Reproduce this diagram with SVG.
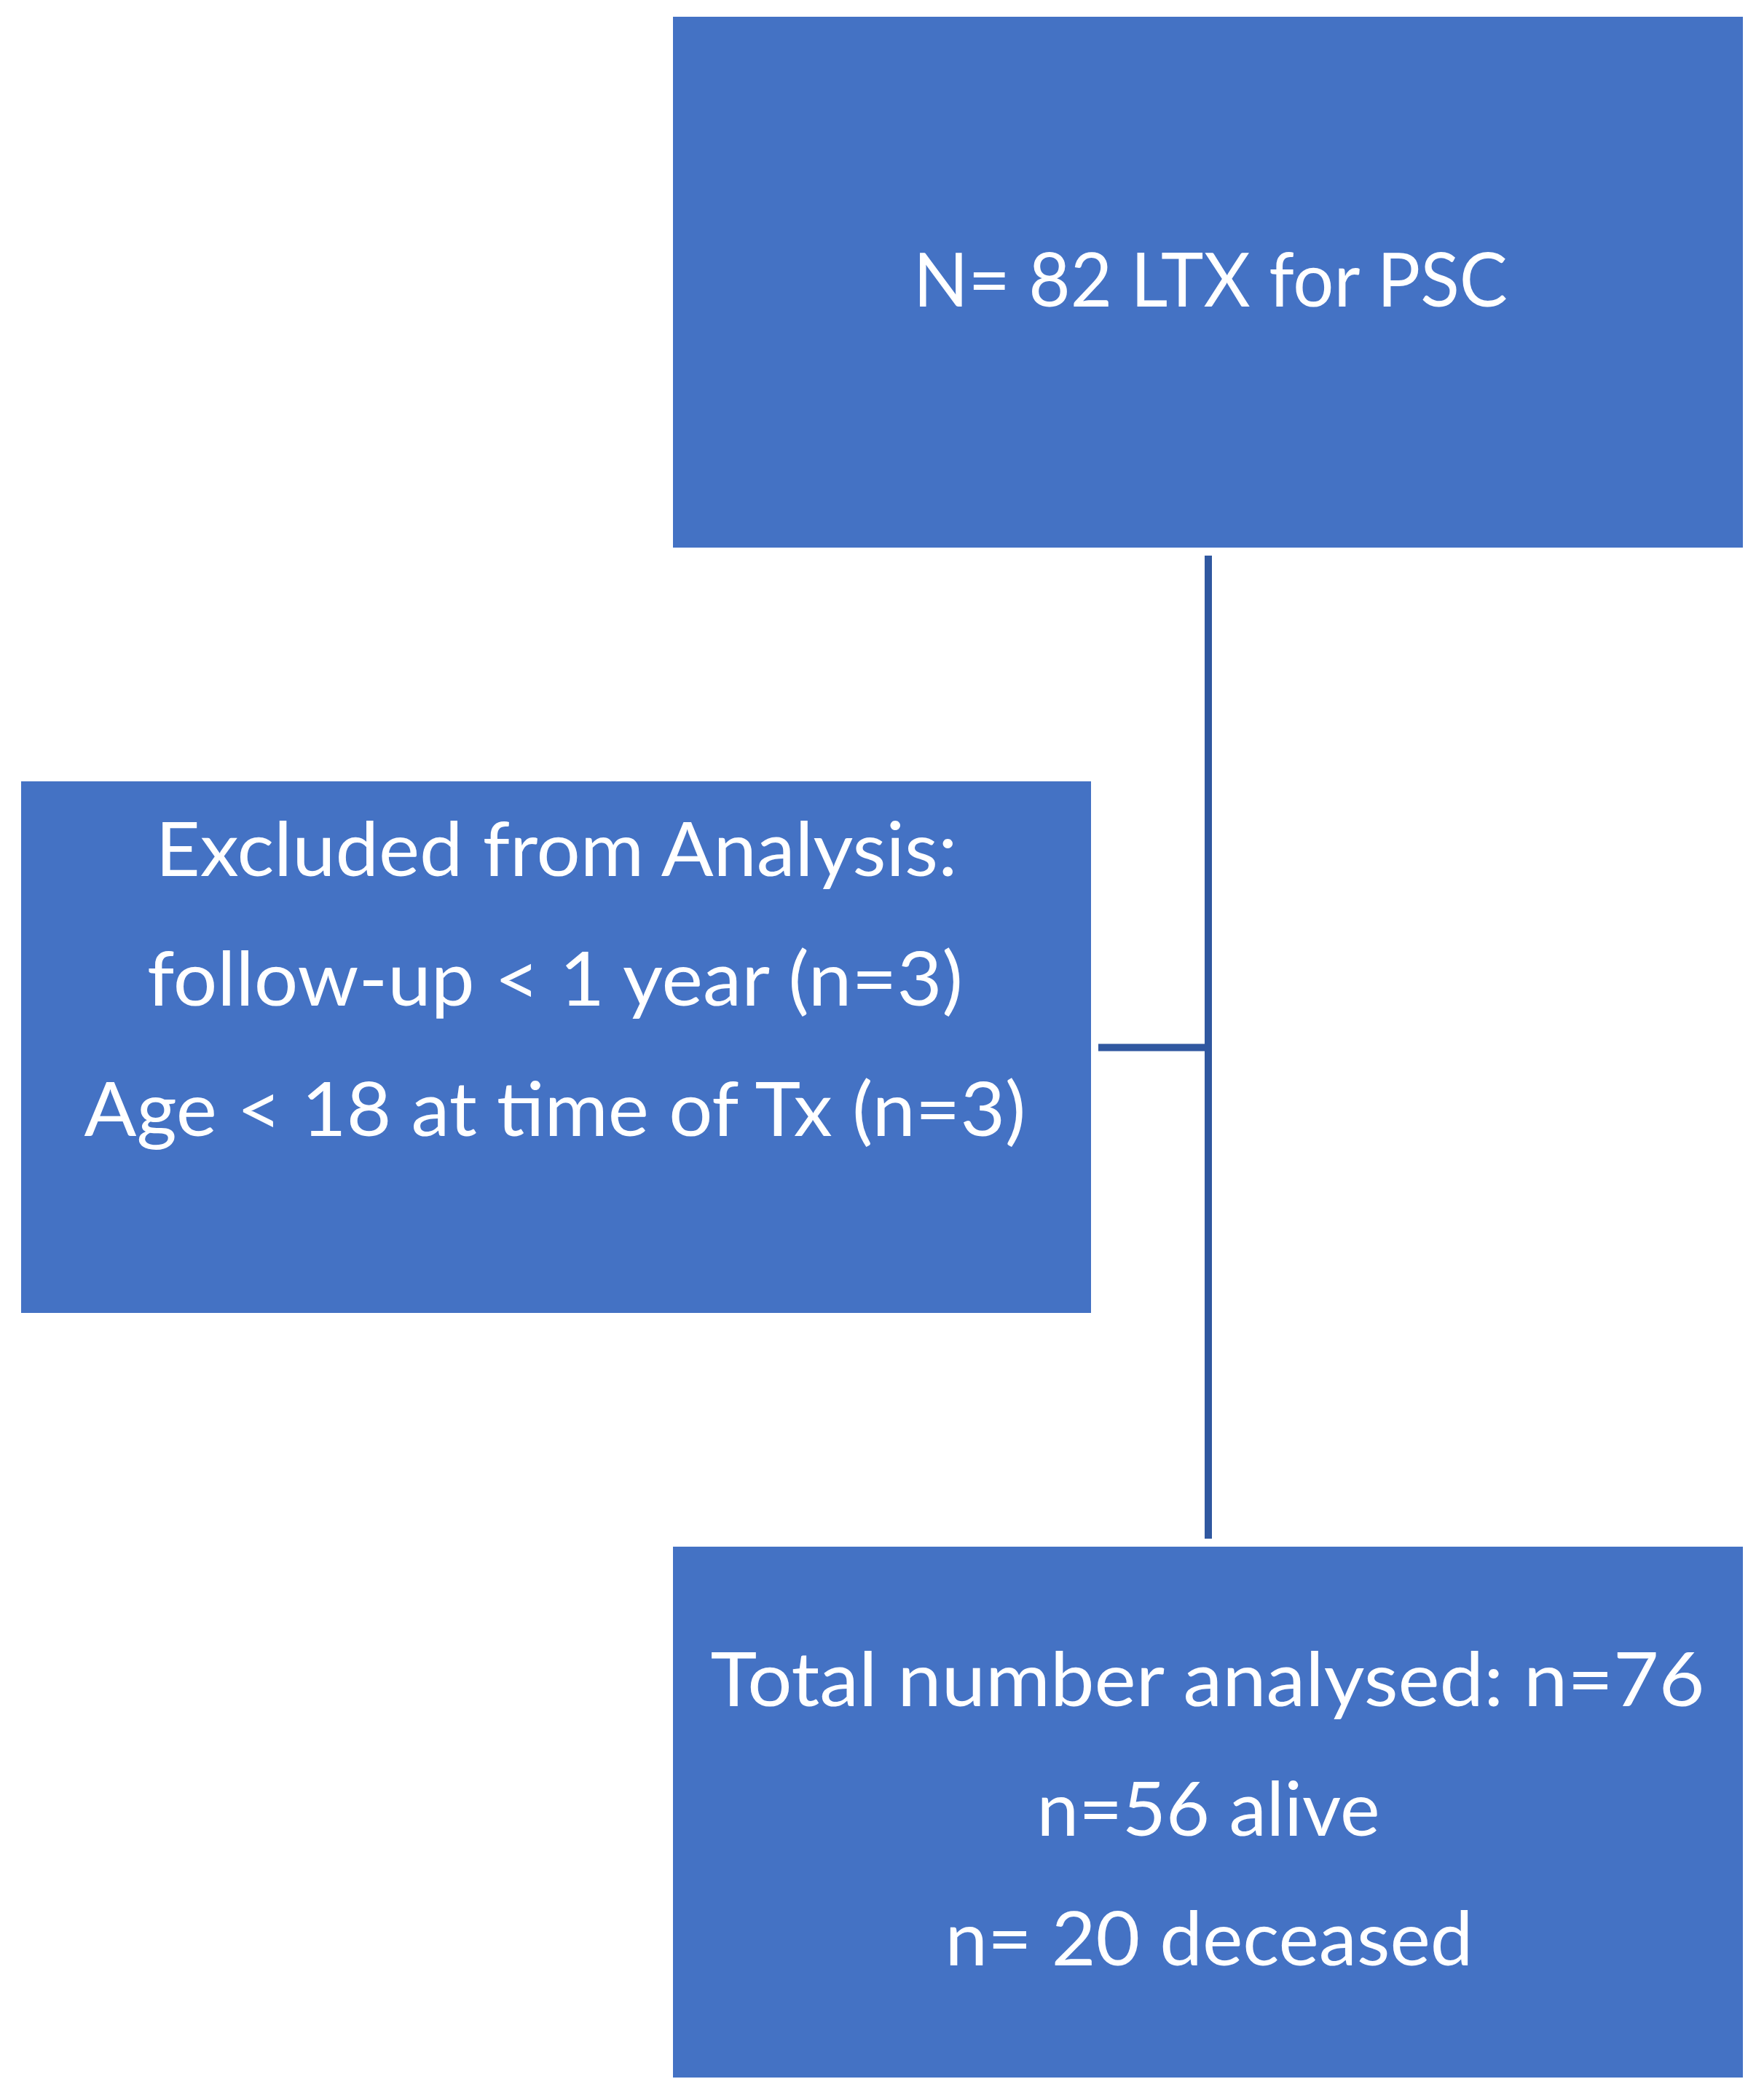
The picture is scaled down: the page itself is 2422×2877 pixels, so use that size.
<svg xmlns="http://www.w3.org/2000/svg" width="2422" height="2877" viewBox="0 0 2422 2877">
  <style>
    .box { fill: #4472C4; }
    .lbl { font-family: Lato, "Open Sans", "Liberation Sans", sans-serif; font-size: 102px; fill: #FFFFFF; text-anchor: middle; }
    .conn { stroke: #3058A0; stroke-width: 10; fill: none; }
  </style>
  <rect width="2422" height="2877" fill="#FFFFFF"/>
  <g id="connectors">
    <line class="conn" x1="1659" y1="763" x2="1659" y2="2113"/>
    <line class="conn" x1="1508" y1="1438.5" x2="1659" y2="1438.5"/>
  </g>
  <g id="node-total">
    <rect class="box" x="924" y="23" width="1469" height="729"/>
    <text class="lbl" x="1662" y="421" textLength="816" lengthAdjust="spacingAndGlyphs">N= 82 LTX for PSC</text>
  </g>
  <g id="node-excluded">
    <rect class="box" x="29" y="1073" width="1469" height="730"/>
    <text class="lbl" x="764" y="1203" textLength="1101" lengthAdjust="spacingAndGlyphs">Excluded from Analysis:</text>
    <text class="lbl" x="762" y="1381" textLength="1120" lengthAdjust="spacingAndGlyphs">follow-up &lt; 1 year (n=3)</text>
    <text class="lbl" x="762" y="1560" textLength="1293" lengthAdjust="spacingAndGlyphs">Age &lt; 18 at time of Tx (n=3)</text>
  </g>
  <g id="node-analysed">
    <rect class="box" x="924" y="2124" width="1469" height="729"/>
    <text class="lbl" x="1658" y="2343" textLength="1365" lengthAdjust="spacingAndGlyphs">Total number analysed: n=76</text>
    <text class="lbl" x="1659" y="2521" textLength="471" lengthAdjust="spacingAndGlyphs">n=56 alive</text>
    <text class="lbl" x="1660" y="2699" textLength="725" lengthAdjust="spacingAndGlyphs">n= 20 deceased</text>
  </g>
</svg>
